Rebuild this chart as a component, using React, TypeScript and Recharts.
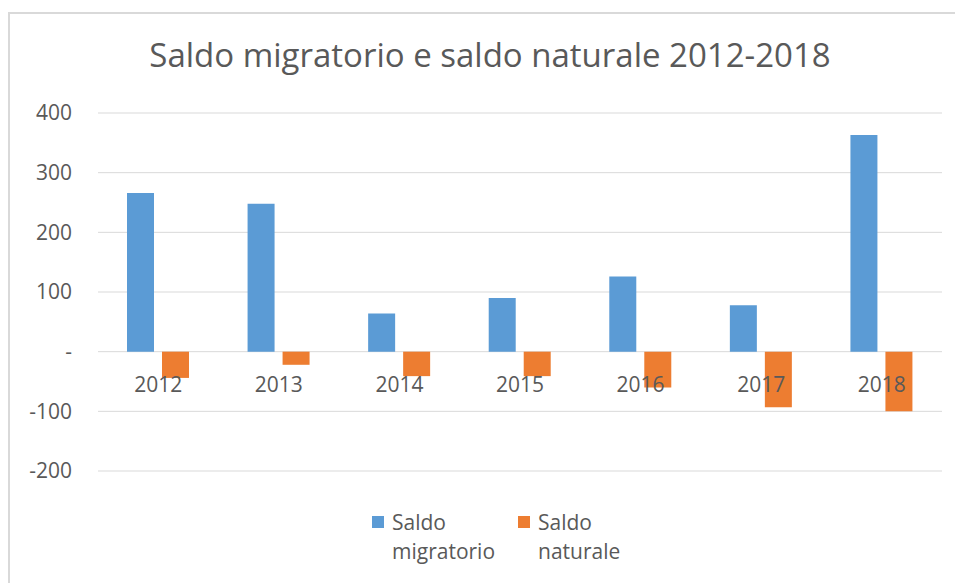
import { BarChart, Bar, XAxis, YAxis, CartesianGrid } from "recharts";

const years = ["2012", "2013", "2014", "2015", "2016", "2017", "2018"];
const saldoMigratorio = [266, 248, 64, 90, 126, 78, 363];
const saldoNaturale = [-44, -22, -41, -41, -60, -93, -100];
const yTicks = [-200, -100, 0, 100, 200, 300, 400];

const data = years.map((y, i) => ({
  year: y,
  migratorio: saldoMigratorio[i],
  naturale: saldoNaturale[i],
}));

const FONT = "'Open Sans', 'Liberation Sans', sans-serif";
const TEXT = "#595959";
const BLUE = "#5b9bd5";
const ORANGE = "#ed7d31";

const W = 955;
const H = 583;
const TOP = 113;
const BOTTOM = 112;
const X_AXIS_H = 30;
const Y_MIN = -200;
const Y_MAX = 400;
const PLOT_H = H - TOP - BOTTOM;
const ZERO_Y = TOP + (PLOT_H * Y_MAX) / (Y_MAX - Y_MIN);

const legendItems = [
  { color: BLUE, lines: ["Saldo", "migratorio"], left: 372 },
  { color: ORANGE, lines: ["Saldo", "naturale"], left: 518 },
];

// category labels sit just under the zero line, like Excel's "next to axis" labels
function CategoryTick(props: any) {
  const { x, payload } = props;
  return (
    <text x={x} y={ZERO_Y + 32} textAnchor="middle" dominantBaseline="central" fill={TEXT} fontSize={21} fontFamily={FONT}>
      {payload.value}
    </text>
  );
}

export default function App() {
  return (
    <div style={{ position: "fixed", left: 0, top: 0, width: W, height: H, overflow: "hidden", background: "#fff" }}>
      <div style={{ position: "absolute", left: 8, top: 12, width: W, height: H, borderLeft: "2px solid #d9d9d9", borderTop: "2px solid #d9d9d9" }} />
      <div
        style={{
          position: "absolute",
          left: 490,
          top: 32,
          transform: "translateX(-50%)",
          whiteSpace: "nowrap",
          fontFamily: FONT,
          fontSize: 33,
          lineHeight: "normal",
          color: TEXT,
        }}
      >
        Saldo migratorio e saldo naturale 2012-2018
      </div>
      <div style={{ position: "absolute", left: 0, top: 0 }}>
        <BarChart
          width={W}
          height={H}
          data={data}
          margin={{ top: TOP, right: 13, bottom: BOTTOM - X_AXIS_H, left: 0 }}
          barSize={27}
          barGap={8}
        >
          <CartesianGrid vertical={false} stroke="#d9d9d9" />
          <YAxis
            domain={[Y_MIN, Y_MAX]}
            ticks={yTicks}
            interval={0}
            width={98}
            axisLine={false}
            tickLine={false}
            tickSize={0}
            tickMargin={26}
            tickFormatter={(v: number) => (v === 0 ? "-" : String(v))}
            tick={{ fill: TEXT, fontSize: 21, fontFamily: FONT }}
          />
          <Bar dataKey="migratorio" name="Saldo migratorio" fill={BLUE} isAnimationActive={false} />
          <Bar dataKey="naturale" name="Saldo naturale" fill={ORANGE} isAnimationActive={false} />
          <XAxis dataKey="year" height={X_AXIS_H} axisLine={false} tickLine={false} interval={0} tick={CategoryTick} />
        </BarChart>
      </div>
      {legendItems.map((item) => (
        <div
          key={item.color}
          style={{ position: "absolute", left: item.left, top: 508, display: "flex", fontFamily: FONT, fontSize: 21, color: TEXT, lineHeight: "29px" }}
        >
          <div style={{ width: 12, height: 12, background: item.color, marginTop: 8, marginRight: 8 }} />
          <div>
            {item.lines.map((l) => (
              <div key={l}>{l}</div>
            ))}
          </div>
        </div>
      ))}
    </div>
  );
}
